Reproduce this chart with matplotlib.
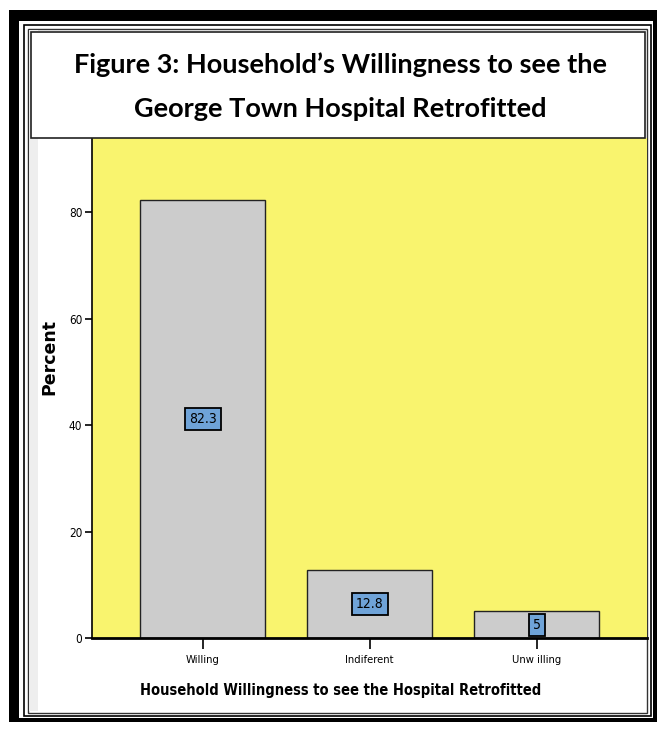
import matplotlib
matplotlib.use('Agg')
import matplotlib.pyplot as plt
from matplotlib.patches import Rectangle

categories = ['Willing', 'Indiferent', 'Unw illing']
percents = [82.3, 12.8, 5.0]
bar_labels = ['82.3', '12.8', '5']
yticks = [0, 20, 40, 60, 80]

title = 'Figure 3: Household\u2019s Willingness to see the\nGeorge Town Hospital Retrofitted'
xlabel = 'Household Willingness to see the Hospital Retrofitted'
ylabel = 'Percent'

W, H = 661, 729
narrow = dict(family=['Liberation Sans Narrow', 'DejaVu Sans'], stretch='condensed')

fig = plt.figure(figsize=(W / 100, H / 100), dpi=100)
fig.patch.set_facecolor('white')


def px_rect(x0, y0, x1, y1, **kw):
    # pixel box, top-left origin -> figure fraction rectangle
    r = Rectangle((x0 / W, 1 - y1 / H), (x1 - x0) / W, (y1 - y0) / H,
                  transform=fig.transFigure, **kw)
    fig.add_artist(r)
    return r


# outer frame
px_rect(9, 10, 657, 722, facecolor='black', edgecolor='none', zorder=-3)
px_rect(19, 21, 653, 718, facecolor='white', edgecolor='none', zorder=-3)
px_rect(23.5, 24.5, 650.5, 716, facecolor='none', edgecolor='black', lw=1.2, zorder=-2)
px_rect(28, 28.5, 647, 713, facecolor='none', edgecolor='#333333', lw=1.0, zorder=-2)
px_rect(28.5, 30, 38, 711, facecolor='#eeeeee', edgecolor='none', zorder=-2)

ax = fig.add_axes([92 / W, 1 - 638 / H, (647 - 92) / W, (638 - 138) / H])
ax.set_facecolor('#f9f46e')

x = list(range(len(categories)))
ax.bar(x, percents, width=0.75, color='#cccccc', edgecolor='#222222', linewidth=1.0, zorder=2)
for xi, v, lab in zip(x, percents, bar_labels):
    ax.text(xi, v / 2, lab, ha='center', va='center', fontsize=10, **narrow,
            bbox=dict(boxstyle='square,pad=0.3', facecolor='#6fa3d8', edgecolor='black', lw=1.3),
            zorder=3)

ax.set_xlim(-0.662, 2.66)
ax.set_ylim(0, 93.9)
ax.set_xticks(x)
ax.set_xticklabels(categories, fontsize=8, **narrow)
ax.set_yticks(yticks)
ax.set_yticklabels([str(t) for t in yticks], fontsize=8.5, **narrow)
ax.tick_params(axis='x', length=8, width=1.2, pad=4)
ax.tick_params(axis='y', length=5, width=1.2, pad=2)
for s in ['top', 'right']:
    ax.spines[s].set_visible(False)
ax.spines['left'].set_linewidth(1.2)
ax.spines['bottom'].set_linewidth(2.0)

fig.text(341 / W, 1 - 690 / H, xlabel, ha='center', va='center', fontsize=10.5,
         fontweight='bold', zorder=5, **narrow)
fig.text(49 / W, 1 - 357 / H, ylabel, ha='center', va='center', rotation=90,
         fontsize=12.5, fontweight='bold', family='DejaVu Sans', zorder=5)

# title box
px_rect(31, 32, 645, 138, facecolor='white', edgecolor='#222222', lw=1.2, zorder=2)
fig.text(340 / W, 1 - 87 / H, title, ha='center', va='center', fontsize=19.5,
         fontweight='bold', family=['Lato', 'DejaVu Sans'], linespacing=2.0, zorder=3)

fig.savefig('out.png', dpi=100)
